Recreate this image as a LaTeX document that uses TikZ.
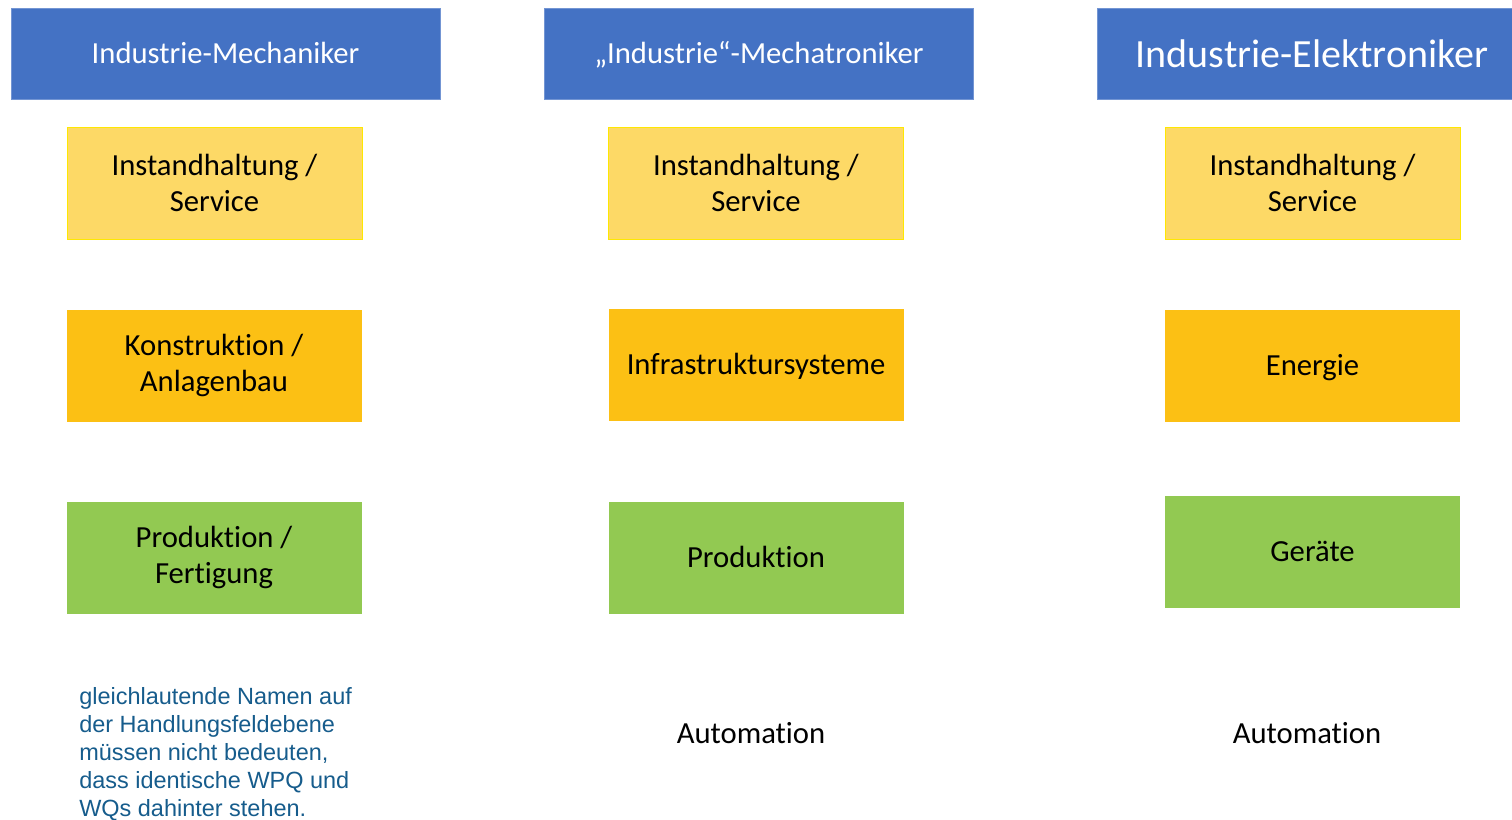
\documentclass[tikz,border=0pt]{standalone}
\usepackage{fontspec}
\setmainfont{Carlito}[Ligatures=NoCommon]
\newfontfamily\notefont{Liberation Sans}
\usetikzlibrary{positioning}
\definecolor{headblue}{HTML}{4472C4}
\definecolor{servyellow}{HTML}{FDD966}
\definecolor{midorange}{HTML}{FCC014}
\definecolor{prodgreen}{HTML}{92C952}
\definecolor{noteblue}{RGB}{22,92,140}
\tikzset{
x=0.75pt, y=-0.75pt,
every node/.style={align=center, inner sep=0pt},
oneline/.style={text height=21.9pt, text depth=6.2pt},
head/.style={oneline, fill=headblue, draw=headblue!75!white, text=white,
  minimum width=321.75pt, minimum height=68.25pt,
  font=\fontsize{23}{28}\selectfont},
field/.style={minimum width=221.25pt, minimum height=84pt,
  font=\fontsize{23}{27}\selectfont},
service/.style={field, fill=servyellow, draw=yellow!90!orange},
middle/.style={field, fill=midorange},
product/.style={field, fill=prodgreen},
}

\begin{document}
\begin{tikzpicture}

    \useasboundingbox (0,0) rectangle (1512,819);

    % Berufe
    \node[head] (mech) at (225.5,53.5) {Industrie-Mechaniker};
    \node[head] (mecha) at (759,53.5) {„Industrie“-Mechatroniker};
    \node[head, font=\fontsize{30}{34}\selectfont, text height=28.6pt, text depth=8.1pt]
      (elek) at (1312,53.5) {Industrie-Elektroniker};

    % Handlungsfelder
    \node[service] (mech1) at (214.5,183) {Instandhaltung /\\Service};
    \node[service] (mecha1) at (756,183) {Instandhaltung /\\Service};
    \node[service] (elek1) at (1312.5,183) {Instandhaltung /\\Service};

    \node[middle] (mech2) at (214,365.5) {Konstruktion /\\Anlagenbau};
    \node[middle, oneline] (mecha2) at (756,364.5) {Infrastruktursysteme};
    \node[middle, oneline] (elek2) at (1312.5,365.5) {Energie};

    \node[product] (mech3) at (214,557.5) {Produktion /\\Fertigung};
    \node[product, oneline] (mecha3) at (756,557.5) {Produktion};
    \node[product, oneline] (elek3) at (1312.5,551.5) {Geräte};

    \node[font=\fontsize{23}{27}\selectfont] (mecha4) at (751,733) {Automation};
    \node[font=\fontsize{23}{27}\selectfont] (elek4) at (1307,733) {Automation};

    \node[anchor=north west, align=left, text=noteblue,
      font=\notefont\fontsize{17.6}{21}\selectfont] (note) at (79,687)
      {gleichlautende Namen auf\\der Handlungsfeldebene\\müssen nicht bedeuten,\\dass identische WPQ und\\WQs dahinter stehen.};

\end{tikzpicture}
\end{document}
